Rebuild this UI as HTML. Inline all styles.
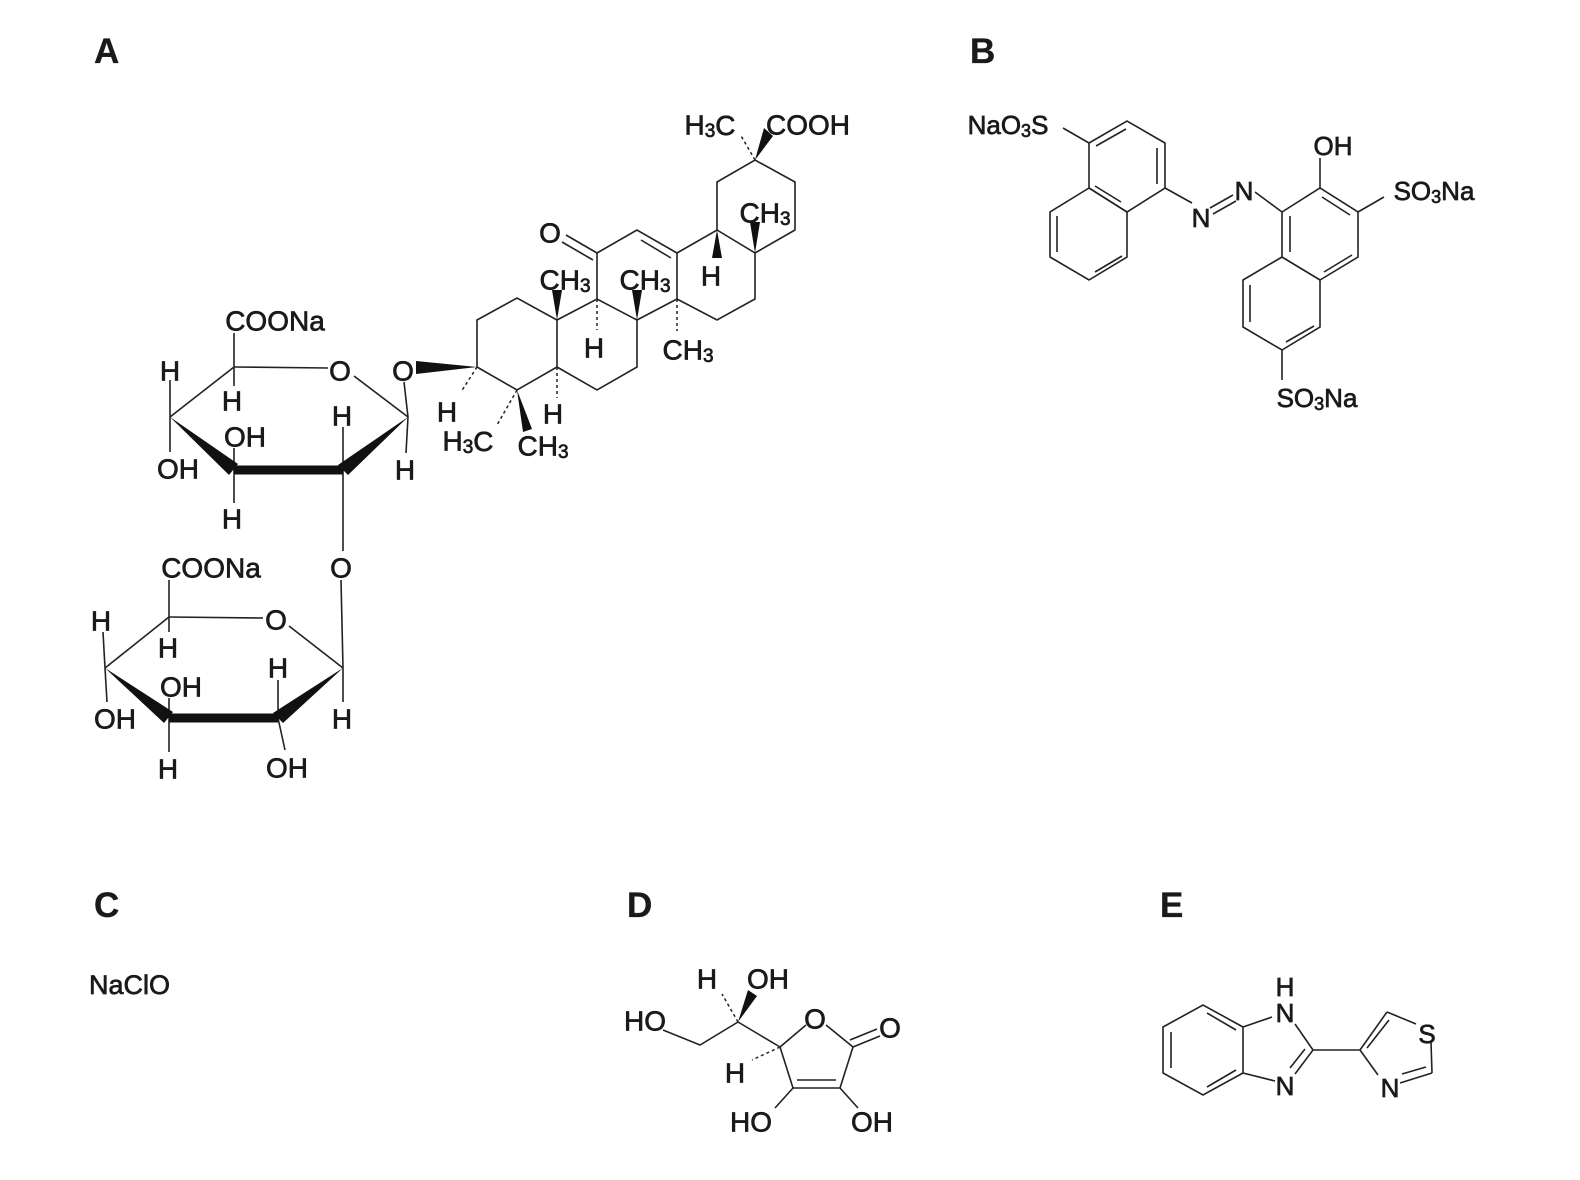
<!DOCTYPE html>
<html><head><meta charset="utf-8"><style>
html,body{margin:0;padding:0;background:#fff}
svg{display:block}
text{font-family:"Liberation Sans",Arial,sans-serif;fill:#1a1a1a;stroke:#1a1a1a;stroke-width:0.7}
.l{font-size:35px;font-weight:bold;stroke-width:0.3}
.t{font-size:28px;dominant-baseline:central;text-anchor:middle}
.b{font-size:26px;dominant-baseline:central;text-anchor:middle}
</style></head><body>
<svg width="1580" height="1180" viewBox="0 0 1580 1180" xmlns="http://www.w3.org/2000/svg">
<g stroke="#222" stroke-width="1.6" fill="none">
<!-- Sugar 1 -->
<line x1="234" y1="367" x2="328" y2="368"/>
<line x1="354" y1="376" x2="408" y2="417"/>
<line x1="234" y1="367" x2="170" y2="417"/>
<line x1="234" y1="367" x2="234" y2="333"/>
<line x1="234" y1="367" x2="234" y2="386"/>
<line x1="170" y1="417" x2="170" y2="380"/>
<line x1="170" y1="417" x2="170" y2="452"/>
<line x1="234" y1="470" x2="234" y2="448"/>
<line x1="234" y1="470" x2="234" y2="503"/>
<line x1="343" y1="470" x2="343" y2="427"/>
<line x1="343" y1="470" x2="343" y2="551"/>
<line x1="408" y1="417" x2="404" y2="382"/>
<line x1="408" y1="417" x2="406" y2="453"/>
<!-- Sugar 2 -->
<line x1="169" y1="617" x2="263" y2="618"/>
<line x1="289" y1="626" x2="343" y2="668"/>
<line x1="169" y1="617" x2="105" y2="668"/>
<line x1="169" y1="617" x2="169" y2="580"/>
<line x1="169" y1="617" x2="169" y2="632"/>
<line x1="105" y1="668" x2="103" y2="632"/>
<line x1="105" y1="668" x2="107" y2="702"/>
<line x1="169" y1="718" x2="169" y2="698"/>
<line x1="169" y1="718" x2="169" y2="752"/>
<line x1="278" y1="718" x2="278" y2="680"/>
<line x1="278" y1="718" x2="285" y2="750"/>
<line x1="343" y1="668" x2="341" y2="580"/>
<line x1="343" y1="668" x2="343" y2="702"/>
<!-- Triterpene -->
<polyline points="477,367 477,320 517,298 557,320 557,367 517,390 477,367"/>
<polyline points="557,320 597,299 637,320 637,367 597,390 557,367"/>
<polyline points="597,299 597,253 637,230 677,253 677,299 637,320"/>
<line x1="641" y1="240" x2="671" y2="258"/>
<line x1="597" y1="253" x2="566" y2="235"/>
<line x1="593" y1="260" x2="562" y2="242"/>
<polyline points="677,253 717,230 755,253 755,299 717,320 677,299"/>
<polyline points="717,230 717,182 755,160 795,182 795,230 755,253"/>
<!-- B dye -->
<polygon points="1089,143 1127,121 1165,143 1165,188 1127,212 1089,188"/>
<polygon points="1089,188 1050,212 1050,257 1089,280 1127,257 1127,212"/>
<line x1="1096" y1="146" x2="1126" y2="129"/>
<line x1="1157" y1="148" x2="1157" y2="184"/>
<line x1="1095" y1="186" x2="1121" y2="202"/>
<line x1="1057" y1="216" x2="1057" y2="252"/>
<line x1="1095" y1="272" x2="1122" y2="256"/>
<line x1="1063" y1="128" x2="1089" y2="143"/>
<line x1="1165" y1="188" x2="1192" y2="203"/>
<line x1="1210" y1="208" x2="1233" y2="195"/>
<line x1="1213" y1="214" x2="1236" y2="201"/>
<line x1="1255" y1="192" x2="1282" y2="212"/>
<polygon points="1282,212 1320,188 1358,212 1358,257 1320,280 1282,257"/>
<polygon points="1282,257 1243,280 1243,327 1282,350 1320,327 1320,280"/>
<line x1="1322" y1="197" x2="1350" y2="215"/>
<line x1="1290" y1="216" x2="1290" y2="252"/>
<line x1="1324" y1="272" x2="1352" y2="255"/>
<line x1="1250" y1="285" x2="1250" y2="322"/>
<line x1="1286" y1="342" x2="1314" y2="326"/>
<line x1="1320" y1="188" x2="1320" y2="158"/>
<line x1="1358" y1="212" x2="1384" y2="197"/>
<line x1="1282" y1="350" x2="1282" y2="380"/>
<!-- D -->
<polyline points="663,1030 700,1045 738,1022 780,1047"/>
<line x1="780" y1="1047" x2="806" y2="1025"/>
<line x1="826" y1="1025" x2="853" y2="1047"/>
<line x1="853" y1="1047" x2="840" y2="1088"/>
<line x1="840" y1="1088" x2="793" y2="1088"/>
<line x1="797" y1="1080" x2="836" y2="1080"/>
<line x1="793" y1="1088" x2="780" y2="1047"/>
<line x1="853" y1="1047" x2="880" y2="1036"/>
<line x1="850" y1="1040" x2="877" y2="1029"/>
<line x1="793" y1="1088" x2="775" y2="1108"/>
<line x1="840" y1="1088" x2="858" y2="1108"/>
<!-- E -->
<polygon points="1163,1027 1203,1005 1243,1027 1243,1073 1203,1095 1163,1073"/>
<line x1="1171" y1="1032" x2="1171" y2="1068"/>
<line x1="1207" y1="1013" x2="1236" y2="1030"/>
<line x1="1207" y1="1087" x2="1236" y2="1070"/>
<line x1="1243" y1="1027" x2="1272" y2="1017"/>
<line x1="1295" y1="1024" x2="1313" y2="1050"/>
<line x1="1313" y1="1050" x2="1295" y2="1074"/>
<line x1="1305" y1="1049" x2="1290" y2="1068"/>
<line x1="1275" y1="1081" x2="1243" y2="1073"/>
<line x1="1313" y1="1050" x2="1360" y2="1050"/>
<line x1="1360" y1="1050" x2="1387" y2="1012"/>
<line x1="1367" y1="1048" x2="1389" y2="1020"/>
<line x1="1387" y1="1012" x2="1416" y2="1024"/>
<line x1="1431" y1="1042" x2="1432" y2="1073"/>
<line x1="1432" y1="1073" x2="1400" y2="1083"/>
<line x1="1426" y1="1067" x2="1402" y2="1074"/>
<line x1="1360" y1="1050" x2="1378" y2="1075"/>
</g>
<!-- dashed -->
<g stroke="#222" stroke-width="1.5" stroke-dasharray="3,3" fill="none">
<line x1="477" y1="367" x2="461" y2="392"/>
<line x1="517" y1="390" x2="497" y2="425"/>
<line x1="557" y1="367" x2="557" y2="398"/>
<line x1="597" y1="299" x2="597" y2="330"/>
<line x1="677" y1="299" x2="677" y2="331"/>
<line x1="755" y1="160" x2="740" y2="134"/>
<line x1="738" y1="1022" x2="722" y2="994"/>
<line x1="780" y1="1047" x2="752" y2="1060"/>
</g>
<!-- bold / wedges -->
<g fill="#111" stroke="none">
<polygon points="170,417 229,475 238,464"/>
<line x1="234" y1="470" x2="343" y2="470" stroke="#111" stroke-width="9"/>
<polygon points="338,465 348,475 408,417"/>
<polygon points="105,668 164,723 173,712"/>
<line x1="169" y1="718" x2="278" y2="718" stroke="#111" stroke-width="9"/>
<polygon points="273,713 283,723 343,668"/>
<polygon points="416,361 416,374 477,367"/>
<polygon points="517,390 523,432 532,429"/>
<polygon points="557,320 552,290 562,290"/>
<polygon points="637,320 632,290 642,290"/>
<polygon points="717,230 712,258 722,258"/>
<polygon points="755,253 750,222 760,222"/>
<polygon points="755,160 764,128 773,136"/>
<polygon points="738,1022 748,990 757,996"/>
</g>
<!-- Panel letters -->
<text class="l" x="94" y="63">A</text>
<text class="l" x="970" y="63">B</text>
<text class="l" x="94" y="917">C</text>
<text class="l" x="627" y="917">D</text>
<text class="l" x="1160" y="917">E</text>
<text x="89" y="994" style="font-size:27px">NaClO</text>
<g transform="translate(0,3)">
<!-- Sugar labels -->
<text class="t" x="275" y="318">COONa</text>
<text class="t" x="340" y="368">O</text>
<text class="t" x="403" y="368">O</text>
<text class="t" x="170" y="368">H</text>
<text class="t" x="232" y="398">H</text>
<text class="t" x="245" y="434">OH</text>
<text class="t" x="178" y="466">OH</text>
<text class="t" x="342" y="413">H</text>
<text class="t" x="405" y="467">H</text>
<text class="t" x="232" y="516">H</text>
<text class="t" x="341" y="565">O</text>
<text class="t" x="211" y="565">COONa</text>
<text class="t" x="276" y="617">O</text>
<text class="t" x="101" y="618">H</text>
<text class="t" x="168" y="645">H</text>
<text class="t" x="181" y="684">OH</text>
<text class="t" x="115" y="716">OH</text>
<text class="t" x="278" y="665">H</text>
<text class="t" x="342" y="716">H</text>
<text class="t" x="168" y="766">H</text>
<text class="t" x="287" y="765">OH</text>
<!-- Triterpene labels -->
<text class="t" x="550" y="230">O</text>
<text class="t" x="447" y="409">H</text>
<text class="t" x="553" y="411">H</text>
<text class="t" x="468" y="438">H<tspan font-size="19" dy="6">3</tspan><tspan dy="-6">C</tspan></text>
<text class="t" x="543" y="443">CH<tspan font-size="19" dy="6">3</tspan></text>
<text class="t" x="594" y="345">H</text>
<text class="t" x="565" y="277">CH<tspan font-size="19" dy="6">3</tspan></text>
<text class="t" x="645" y="277">CH<tspan font-size="19" dy="6">3</tspan></text>
<text class="t" x="688" y="347">CH<tspan font-size="19" dy="6">3</tspan></text>
<text class="t" x="711" y="273">H</text>
<text class="t" x="765" y="210">CH<tspan font-size="19" dy="6">3</tspan></text>
<text class="t" x="710" y="122">H<tspan font-size="19" dy="6">3</tspan><tspan dy="-6">C</tspan></text>
<text class="t" x="808" y="122">COOH</text>
<!-- B labels -->
<text class="b" x="1008" y="122">NaO<tspan font-size="18" dy="6">3</tspan><tspan dy="-6">S</tspan></text>
<text class="b" x="1201" y="215">N</text>
<text class="b" x="1244" y="188">N</text>
<text class="b" x="1333" y="143">OH</text>
<text class="b" x="1434" y="188">SO<tspan font-size="18" dy="6">3</tspan><tspan dy="-6">Na</tspan></text>
<text class="b" x="1317" y="395">SO<tspan font-size="18" dy="6">3</tspan><tspan dy="-6">Na</tspan></text>
<!-- D labels -->
<text class="t" x="645" y="1018">HO</text>
<text class="t" x="707" y="976">H</text>
<text class="t" x="768" y="976">OH</text>
<text class="t" x="815" y="1016">O</text>
<text class="t" x="890" y="1025">O</text>
<text class="t" x="735" y="1070">H</text>
<text class="t" x="751" y="1119">HO</text>
<text class="t" x="872" y="1119">OH</text>
<!-- E labels -->
<text class="b" x="1285" y="984">H</text>
<text class="b" x="1285" y="1010">N</text>
<text class="b" x="1285" y="1083">N</text>
<text class="b" x="1390" y="1085">N</text>
<text class="b" x="1427" y="1031">S</text>
</g>
</svg>
</body></html>
